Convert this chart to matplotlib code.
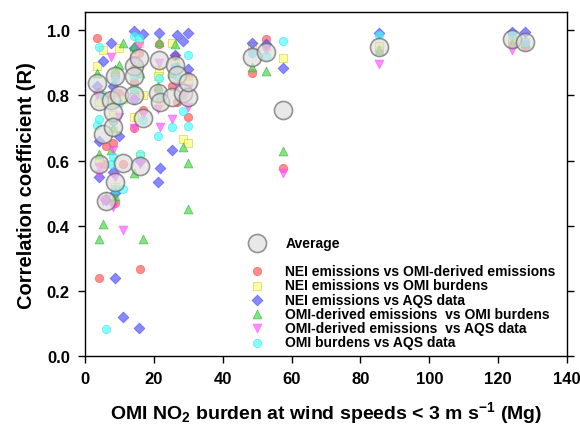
import matplotlib
matplotlib.use("Agg")
import matplotlib.pyplot as plt

plt.rcParams['font.family'] = ['Liberation Sans', 'DejaVu Sans']
plt.rcParams['font.weight'] = 'bold'
plt.rcParams['mathtext.fontset'] = 'custom'
plt.rcParams['mathtext.rm'] = 'Liberation Sans:bold'
plt.rcParams['mathtext.bf'] = 'Liberation Sans:bold'
plt.rcParams['mathtext.it'] = 'Liberation Sans:bold'
plt.rcParams['mathtext.default'] = 'bf'

# City NO2 burdens (Mg) and average correlations
city_x = [3.5, 4.1, 4.1, 5.2, 6.1, 7.5, 8.1, 8.1, 8.7, 8.7, 9.9, 11.0, 14.2, 14.2, 14.2,
          15.7, 15.9, 16.8, 21.4, 21.2, 21.7, 25.2, 26.1, 26.7, 28.4, 29.9, 30.0,
          48.4, 52.7, 57.4, 85.5, 124.0, 127.8]
avg_r = [0.838, 0.783, 0.59, 0.68, 0.477, 0.786, 0.75, 0.703, 0.86, 0.535, 0.80, 0.593,
         0.89, 0.86, 0.80, 0.915, 0.584, 0.73, 0.91, 0.807, 0.78, 0.795, 0.893, 0.862,
         0.807, 0.795, 0.84, 0.917, 0.933, 0.755, 0.948, 0.973, 0.963]

nei_vs_omi_emis = [0.975, 0.81, 0.24, 0.59, 0.645, 0.80, 0.655, 0.72, 0.862, 0.47, 0.807, 0.59,
                   0.88, 0.84, 0.70, 0.93, 0.266, 0.755, 0.957, 0.82, 0.79, 0.83, 0.92, 0.78,
                   0.80, 0.734, 0.86, 0.868, 0.972, 0.578, 0.94, 0.965, 0.95]
nei_vs_omi_burden = [0.89, 0.78, 0.60, 0.94, 0.483, 0.78, 0.74, 0.69, 0.87, 0.52, 0.945, 0.79,
                     0.93, 0.734, 0.82, 0.96, 0.615, 0.80, 0.877, 0.86, 0.77, 0.96, 0.90, 0.85,
                     0.667, 0.654, 0.847, 0.95, 0.95, 0.915, 0.95, 0.975, 0.965]
nei_vs_aqs = [0.83, 0.66, 0.55, 0.905, 0.48, 0.96, 0.83, 0.566, 0.24, 0.50, 0.676, 0.12,
              0.997, 0.945, 0.79, 0.085, 0.60, 0.988, 0.99, 0.535, 0.578, 0.633, 0.923, 0.985,
              0.967, 0.99, 0.88, 0.96, 0.957, 0.885, 0.99, 0.995, 0.995]
omi_emis_vs_omi_burden = [0.868, 0.62, 0.36, 0.404, 0.49, 0.633, 0.78, 0.70, 0.88, 0.49, 0.893, 0.96,
                          0.95, 0.563, 0.82, 0.90, 0.87, 0.36, 0.963, 0.83, 0.80, 0.87, 0.957, 0.89,
                          0.642, 0.593, 0.452, 0.887, 0.875, 0.63, 0.94, 0.96, 0.96]
omi_emis_vs_aqs = [0.80, 0.56, 0.58, 0.477, 0.48, 0.917, 0.456, 0.633, 0.85, 0.55, 0.734, 0.388,
                   0.91, 0.70, 0.79, 0.95, 0.59, 0.74, 0.90, 0.758, 0.703, 0.728, 0.88, 0.83,
                   0.80, 0.765, 0.82, 0.93, 0.94, 0.563, 0.895, 0.94, 0.955]
omi_burden_vs_aqs = [0.71, 0.948, 0.728, 0.80, 0.083, 0.59, 0.61, 0.72, 0.85, 0.514, 0.777, 0.514,
                     0.982, 0.86, 0.82, 0.975, 0.62, 0.725, 0.853, 0.676, 0.80, 0.703, 0.887, 0.86,
                     0.752, 0.706, 0.923, 0.93, 0.92, 0.966, 0.985, 0.985, 0.965]

series = [
    ("NEI emissions vs OMI-derived emissions", nei_vs_omi_emis, 'o', '#ff5050', '#ff5050'),
    ("NEI emissions vs OMI burdens", nei_vs_omi_burden, 's', '#ffff70', '#c8c840'),
    ("NEI emissions vs AQS data", nei_vs_aqs, 'D', '#4848ff', '#4848ff'),
    ("OMI-derived emissions  vs OMI burdens", omi_emis_vs_omi_burden, '^', '#40d840', '#30b030'),
    ("OMI-derived emissions  vs AQS data", omi_emis_vs_aqs, 'v', '#ff50ff', '#ff50ff'),
    ("OMI burdens vs AQS data", omi_burden_vs_aqs, 'o', '#40ffff', '#40e0e0'),
]

fig = plt.figure(figsize=(5.8, 4.27), dpi=100)
ax = fig.add_axes([0.1466, 0.1639, 0.8310, 0.8050])

handles = []
for label, vals, mk, fc, ec in series:
    ms = 36 if mk == 'o' else (30 if mk == 'D' else 40)
    h = ax.scatter(city_x, vals, s=ms, marker=mk, facecolor=fc, edgecolor=ec,
                   linewidth=0.6, alpha=0.65, label=label, zorder=2)
    handles.append(h)

havg = ax.scatter(city_x, avg_r, s=170, marker='o', facecolor='#dcdcdc', edgecolor='#606060',
                  linewidth=1.2, alpha=0.65, label='Average', zorder=3)

ax.set_xlim(0, 140)
ax.set_ylim(0, 1.055)
ax.set_xticks(range(0, 141, 20))
ax.set_yticks([0.0, 0.2, 0.4, 0.6, 0.8, 1.0])
ax.set_yticklabels(['0.0', '0.2', '0.4', '0.6', '0.8', '1.0'])
ax.tick_params(axis='both', direction='out', length=5, width=1, labelsize=12, pad=6)
ax.tick_params(axis='y', right=True, which='both')
ax.tick_params(axis='y', labelright=False)
for lab in ax.get_xticklabels() + ax.get_yticklabels():
    lab.set_fontweight('bold')
for sp in ax.spines.values():
    sp.set_linewidth(1.0)

ax.set_xlabel(r"OMI NO$_{2}$ burden at wind speeds < 3 m s$^{-1}$ (Mg)", fontsize=14,
              fontweight='bold', labelpad=9)
ax.set_ylabel("Correlation coefficient (R)", fontsize=14.5, fontweight='bold', labelpad=8)

leg1 = ax.legend([havg], ['Average'], loc='upper left', bbox_to_anchor=(0.303, 0.386),
                 frameon=False, scatterpoints=1, handletextpad=1.0,
                 prop={'weight': 'bold', 'size': 10})
ax.add_artist(leg1)
leg2 = ax.legend(handles, [s[0] for s in series], loc='upper left', bbox_to_anchor=(0.303, 0.304),
                 frameon=False, scatterpoints=1, handletextpad=1.0, labelspacing=0.02,
                 prop={'weight': 'bold', 'size': 10})

fig.savefig('out.png', dpi=100)
